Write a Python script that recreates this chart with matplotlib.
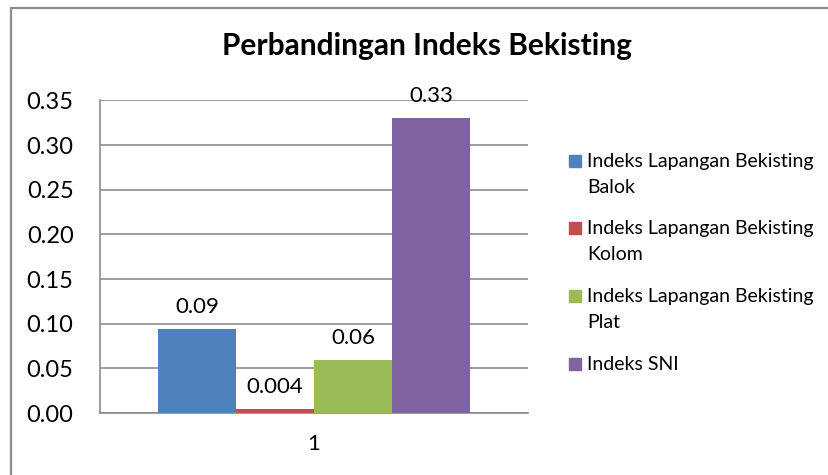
import matplotlib
matplotlib.use("Agg")
import matplotlib.pyplot as plt
from matplotlib.patches import Rectangle

# data
categories = ["1"]
series_names = [
    "Indeks Lapangan Bekisting\nBalok",
    "Indeks Lapangan Bekisting\nKolom",
    "Indeks Lapangan Bekisting\nPlat",
    "Indeks SNI",
]
values = [0.094, 0.004, 0.059, 0.33]
value_labels = ["0.09", "0.004", "0.06", "0.33"]
colors = ["#4F81BD", "#C0504D", "#9BBB59", "#8064A2"]
y_ticks = [0.00, 0.05, 0.10, 0.15, 0.20, 0.25, 0.30, 0.35]

plt.rcParams["font.family"] = ["Lato", "DejaVu Sans"]

W, H = 829, 475
fig = plt.figure(figsize=(W / 100, H / 100), dpi=100)
ax = fig.add_axes([100 / W, 1 - 413 / H, 428 / W, (413 - 100.5) / H])

bar_w = 78 / 428
n = len(values)
for i, (v, lab, c) in enumerate(zip(values, value_labels, colors)):
    x = 1 + (i - (n - 1) / 2) * bar_w
    ax.bar(x, v, width=bar_w, color=c, zorder=3)
    ax.annotate(lab, (x, v), xytext=(0, 9), textcoords="offset points",
                ha="center", va="bottom", fontsize=16, color="black")

ax.set_xlim(0.5, 1.5)
ax.set_ylim(0, 0.35)
ax.set_yticks(y_ticks)
ax.set_yticklabels([f"{t:.2f}" for t in y_ticks], fontsize=17)
ax.set_xticks([1])
ax.set_xticklabels(categories, fontsize=16)
ax.tick_params(axis="y", length=0, pad=19)
ax.tick_params(axis="x", length=0, pad=15)
ax.grid(axis="y", color="#8c8c8c", linewidth=1.2, zorder=0)
for side in ["top", "right"]:
    ax.spines[side].set_visible(False)
for side in ["left", "bottom"]:
    ax.spines[side].set_color("#8c8c8c")
    ax.spines[side].set_linewidth(1.2)

fig.text(427 / W, 1 - 46 / H, "Perbandingan Indeks Bekisting",
         ha="center", va="center", fontsize=21.5, fontweight="bold")

# legend drawn by hand so the marker sits on the first line
for i, (name, c) in enumerate(zip(series_names, colors)):
    base = 167 + i * 67.5
    fig.patches.append(Rectangle((569 / W, 1 - (base) / H), 12 / W, 12 / H,
                                 transform=fig.transFigure, color=c))
    for j, line in enumerate(name.split("\n")):
        fig.text(587 / W, 1 - (base + j * 26) / H, line,
                 ha="left", va="baseline", fontsize=14)

# chart frame
fig.patches.append(Rectangle((11 / W, -0.1), 1.2, 1 - 7.5 / H + 0.1,
                             transform=fig.transFigure, fill=False,
                             edgecolor="#8c8c8c", linewidth=1.6))

fig.savefig("out.png", dpi=100)
